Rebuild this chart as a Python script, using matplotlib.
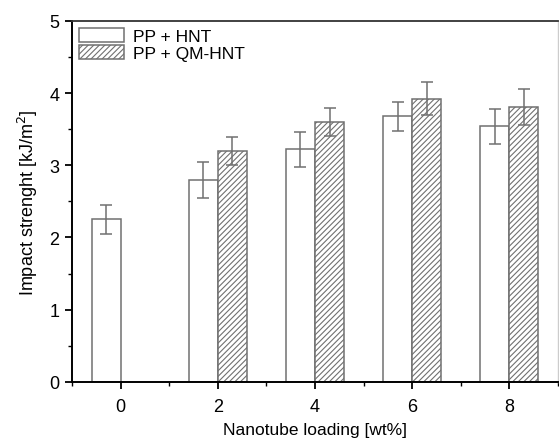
import matplotlib.pyplot as plt
import numpy as np
from matplotlib.ticker import MultipleLocator

plt.rcParams['font.family'] = ['Liberation Sans', 'DejaVu Sans']
plt.rcParams['hatch.color'] = '#777777'
plt.rcParams['hatch.linewidth'] = 0.8

loading = [0, 2, 4, 6, 8]
hnt = [2.25, 2.80, 3.22, 3.68, 3.54]
hnt_err = [0.20, 0.25, 0.24, 0.20, 0.245]
qm_loading = [2, 4, 6, 8]
qm = [3.20, 3.60, 3.92, 3.81]
qm_err = [0.19, 0.20, 0.23, 0.25]

width = 0.6
edge = '#707070'

fig = plt.figure(figsize=(5.59, 4.39), dpi=100)
ax = fig.add_axes([0.129, 0.128, 0.869, 0.822])

ax.bar(loading, hnt, width=-width, align='edge', color='white',
       edgecolor=edge, linewidth=1.1, label='PP + HNT')
ax.bar(qm_loading, qm, width=width, align='edge', color='white',
       edgecolor=edge, linewidth=1.1, hatch='//////', label='PP + QM-HNT')

ax.errorbar(np.array(loading) - width / 2, hnt, yerr=hnt_err, fmt='none',
            ecolor=edge, elinewidth=1.1, capsize=4, capthick=1.1)
ax.errorbar(np.array(qm_loading) + width / 2, qm, yerr=qm_err, fmt='none',
            ecolor=edge, elinewidth=1.1, capsize=4, capthick=1.1)

ax.set_xlim(-1, 9)
ax.set_ylim(0, 5)
ax.set_xticks(loading)
ax.set_yticks([0, 1, 2, 3, 4, 5])
ax.xaxis.set_minor_locator(MultipleLocator(1))
ax.yaxis.set_minor_locator(MultipleLocator(0.5))
ax.tick_params(which='major', direction='out', length=5, width=1.3, labelsize=13)
ax.tick_params(which='minor', direction='out', length=3, width=1.0)
ax.tick_params(axis='x', pad=7)
ax.tick_params(axis='y', pad=4)

for s in ['left', 'bottom']:
    ax.spines[s].set_linewidth(1.4)
    ax.spines[s].set_color('black')
ax.spines['top'].set_linewidth(1.3)
ax.spines['top'].set_color('#333333')
ax.spines['right'].set_linewidth(1.0)
ax.spines['right'].set_color('#cccccc')

ax.set_xlabel('Nanotube loading [wt%]', fontsize=12.5, labelpad=5)
ax.set_ylabel('Impact strenght [kJ/m$^2$]', fontsize=13, labelpad=7)

ax.legend(loc='upper left', frameon=False, fontsize=12.5, handlelength=2.6,
          handleheight=0.9, labelspacing=0.05, borderaxespad=0.3,
          handletextpad=0.5, borderpad=0.1)

fig.savefig('out.png', dpi=100)
